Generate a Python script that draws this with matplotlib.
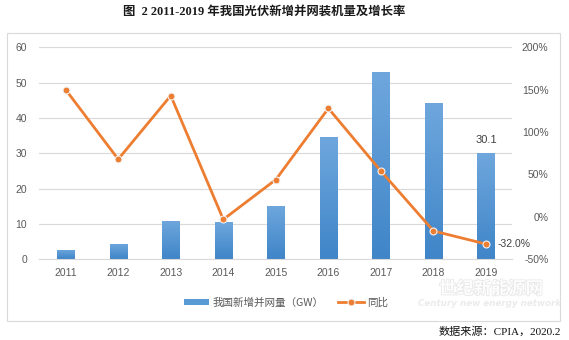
import numpy as np
import matplotlib
matplotlib.use("Agg")
import matplotlib.pyplot as plt
from matplotlib.patches import Rectangle
from matplotlib.lines import Line2D
from matplotlib.ticker import FuncFormatter
import matplotlib.patheffects as pe

years = ["2011", "2012", "2013", "2014", "2015", "2016", "2017", "2018", "2019"]
new_capacity_gw = [2.7, 4.4, 10.9, 10.6, 15.1, 34.5, 53.1, 44.3, 30.1]
growth_pct = [150.0, 68.0, 143.0, -3.0, 44.0, 128.0, 54.0, -16.6, -32.0]

title_text = "图  2 2011-2019 年我国光伏新增并网装机量及增长率"
bar_label = "我国新增并网量（GW）"
line_label = "同比"
source_text = "数据来源：CPIA，2020.2"

W, H = 569, 340
fig = plt.figure(figsize=(W / 100, H / 100), dpi=100)
fig.patch.set_facecolor("white")

def fx(px):
    return px / W

def fy(py):
    return 1 - py / H

# outer chart frame
fig.patches.append(Rectangle((fx(7), fy(321)), fx(560) - fx(7), fy(33) - fy(321),
                             transform=fig.transFigure, fill=False,
                             edgecolor="#D9D9D9", linewidth=0.8, zorder=0))

left, right, top, bottom = 39.4, 512.3, 47.3, 259.3
ax = fig.add_axes([fx(left), fy(bottom), fx(right) - fx(left), fy(top) - fy(bottom)])
ax2 = ax.twinx()

x = np.arange(len(years))
bar_w = 0.33
tick_color = "#595959"
cjk = ["Noto Sans CJK SC", "DejaVu Sans"]

bars = ax.bar(x, new_capacity_gw, width=bar_w, color="none", edgecolor="none", zorder=2)
grad = np.linspace(0, 1, 256).reshape(-1, 1)
cmap = matplotlib.colors.LinearSegmentedColormap.from_list("blue", ["#3F85C8", "#6FA7DD"])
for b in bars:
    x0 = b.get_x()
    h = b.get_height()
    im = ax.imshow(grad, cmap=cmap, origin="lower", aspect="auto",
                   extent=(x0, x0 + b.get_width(), 0, h), zorder=2)
    im.set_clip_path(b)

ax.set_xlim(-0.5, len(years) - 0.5)
ax.set_ylim(0, 60)
ax.set_yticks(np.arange(0, 61, 10))
ax.set_xticks(x)
ax.set_xticklabels(years)
ax.yaxis.grid(True, color="#D9D9D9", linewidth=0.8)
ax.set_axisbelow(True)
for s in ["top", "left", "right"]:
    ax.spines[s].set_visible(False)
ax.spines["bottom"].set_color("#D9D9D9")
ax.spines["bottom"].set_linewidth(0.8)
ax.tick_params(axis="both", length=0, colors=tick_color, labelsize=7.5)
ax.tick_params(axis="y", pad=9)
ax.tick_params(axis="x", pad=6)
for lab in ax.get_xticklabels() + ax.get_yticklabels():
    lab.set_fontfamily("Liberation Sans")

ax2.plot(x, np.array(growth_pct) / 100, color="#ED7D31", linewidth=2.0,
         marker="o", markersize=5, markerfacecolor="#ED7D31",
         markeredgecolor="#F2F2F2", markeredgewidth=0.8, zorder=3)
ax2.set_ylim(-0.5, 2.0)
ax2.set_yticks(np.arange(-0.5, 2.01, 0.5))
ax2.yaxis.set_major_formatter(FuncFormatter(lambda v, p: f"{v * 100:.0f}%"))
for s in ["top", "left", "right", "bottom"]:
    ax2.spines[s].set_visible(False)
ax2.tick_params(axis="y", length=0, colors=tick_color, labelsize=7.5, pad=26)
for lab in ax2.get_yticklabels():
    lab.set_fontfamily("Liberation Sans")
    lab.set_horizontalalignment("right")

# data labels on the last year
ax.annotate(f"{new_capacity_gw[-1]:.1f}", (x[-1], new_capacity_gw[-1]),
            xytext=(0, 6), textcoords="offset points", ha="center", va="bottom",
            fontsize=8, color="#404040", fontfamily="Liberation Sans")
ax2.annotate(f"{growth_pct[-1]:.1f}%", (x[-1], growth_pct[-1] / 100),
             xytext=(8.5, 0), textcoords="offset points", ha="left", va="center",
             fontsize=7.5, color="#404040", fontfamily="Liberation Sans")

# title
fig.text(fx(123), fy(12), title_text, ha="left", va="center", fontsize=8.9,
         fontweight="bold", color="#1a1a1a",
         fontfamily=["Liberation Serif", "Noto Sans CJK SC"])

# legend
handles = [Rectangle((0, 0), 1, 1, facecolor="#5B9BD5", edgecolor="none"),
           Line2D([0], [0], color="#ED7D31", linewidth=2.0, marker="o", markersize=5,
                  markerfacecolor="#ED7D31", markeredgecolor="#F2F2F2",
                  markeredgewidth=0.8)]
leg = fig.legend(handles, [bar_label, line_label], loc="center",
                 bbox_to_anchor=(fx(286), fy(302.5)), ncol=2, frameon=False,
                 prop={"family": cjk, "size": 7.6}, handlelength=2.4,
                 handleheight=0.45, handletextpad=0.3, columnspacing=1.4,
                 labelcolor=tick_color)

# watermark
wm = fig.text(fx(491), fy(289), "世纪新能源网", ha="center", va="center",
              fontsize=12.5, fontfamily=cjk, color="white", fontweight="bold",
              alpha=0.9)
wm.set_path_effects([pe.withStroke(linewidth=1.0, foreground="#E3E3E3")])
fig.text(fx(490), fy(303), "Century new energy network", ha="center", va="center",
         fontsize=6.3, fontstyle="italic", fontweight="bold", color="#EBEBEB",
         fontfamily="DejaVu Sans")

# source note
fig.text(fx(561), fy(331), source_text, ha="right", va="center", fontsize=8,
         color="#111111", fontfamily=["Liberation Serif", "Noto Sans CJK SC"])

fig.savefig("out.png", dpi=100)
